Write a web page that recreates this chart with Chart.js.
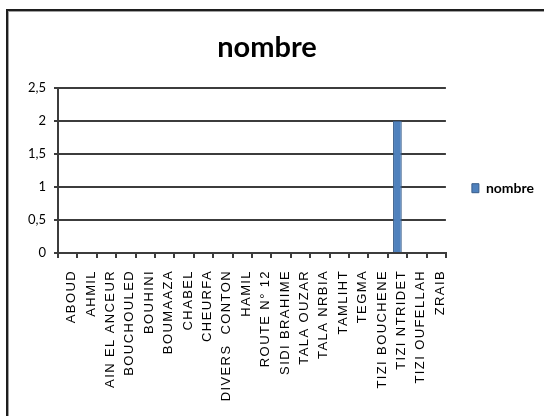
<!DOCTYPE html>
<html>
<head>
<meta charset="utf-8">
<script src="https://cdn.jsdelivr.net/npm/chart.js@4"></script>
<style>
    html, body { margin: 0; padding: 0; background: #fff; }
    #wrap { position: relative; width: 544px; height: 416px; overflow: hidden; }
    #frame {
        position: absolute; left: 6px; top: 9px; right: -20px; bottom: -20px;
        border-left: 2px solid #1e1e1e; border-top: 2px solid #1e1e1e;
        box-shadow: inset 1px 1px 0 #a0a0a0;
    }
    #chart { position: absolute; left: 0; top: 0; }
</style>
</head>
<body>
<div id="wrap">
    <div id="frame"></div>
    <canvas id="chart" width="544" height="416"></canvas>
</div>
<script>
const categories = ['ABOUD', 'AHMIL', 'AIN EL ANCEUR', 'BOUCHOULED', 'BOUHINI', 'BOUMAAZA', 'CHABEL', 'CHEURFA',
    'DIVERS  CONTON', 'HAMIL', 'ROUTE N° 12', 'SIDI BRAHIME', 'TALA OUZAR', 'TALA NRBIA', 'TAMLIHT', 'TEGMA',
    'TIZI BOUCHENE', 'TIZI NTRIDET', 'TIZI OUFELLAH', 'ZRAIB'];
const nombre = [0, 0, 0, 0, 0, 0, 0, 0, 0, 0, 0, 0, 0, 0, 0, 0, 0, 2, 0, 0];
const yTicks = [0, 0.5, 1, 1.5, 2, 2.5];
const yTickLabels = ['0', '0,5', '1', '1,5', '2', '2,5'];

const gridColor = '#3c3c3c';

// the x labels in the original look stretched, a bit of letter spacing gets close
const labelSpacing = {
    id: 'labelSpacing',
    afterDatasetsDraw(chart) { chart.ctx.letterSpacing = '1.4px'; },
    afterDraw(chart) { chart.ctx.letterSpacing = '0px'; }
};

// excel centres the title on the whole frame, not the canvas
const titleShift = {
    id: 'titleShift',
    afterLayout(chart) { chart.titleBlock.right -= 18; }
};

const ctx = document.getElementById('chart').getContext('2d');
new Chart(ctx, {
    type: 'bar',
    data: {
        labels: categories,
        datasets: [{
            label: 'nombre',
            data: nombre,
            backgroundColor: '#4f81bd',
            borderColor: '#385d8a',
            borderWidth: 1,
            barPercentage: 0.9,
            categoryPercentage: 0.5
        }]
    },
    options: {
        responsive: false,
        animation: false,
        layout: { padding: { left: 8, top: 10, right: 0, bottom: 0 } },
        plugins: {
            title: {
                display: true,
                text: 'nombre',
                color: '#000',
                font: { family: 'Lato', size: 29, weight: 'bold' },
                padding: { top: 20, bottom: 23 }
            },
            legend: {
                position: 'right',
                align: 'start',
                fullSize: false,
                title: { display: true, text: '', padding: { top: 53, bottom: 0 } },
                labels: {
                    boxWidth: 7,
                    boxHeight: 9,
                    padding: 26,
                    color: '#000',
                    font: { family: 'Lato', size: 14, weight: 'bold' }
                }
            },
            tooltip: { enabled: false }
        },
        scales: {
            x: {
                grid: { display: true, drawOnChartArea: false, color: gridColor, lineWidth: 2, tickLength: 5, offset: true },
                border: { display: true, color: gridColor, width: 2 },
                ticks: {
                    z: 1,
                    minRotation: 90,
                    maxRotation: 90,
                    autoSkip: false,
                    padding: 12,
                    labelOffset: 4,
                    color: '#000',
                    font: { family: 'Liberation Sans', size: 13 }
                },
                afterFit(scale) { scale.height = 163; }
            },
            y: {
                min: 0,
                max: 2.5,
                grid: { color: gridColor, lineWidth: 2, tickLength: 4 },
                border: { display: true, color: gridColor, width: 2 },
                ticks: {
                    stepSize: 0.5,
                    padding: 8,
                    color: '#000',
                    font: { family: 'Lato', size: 13 },
                    callback: (value) => yTickLabels[yTicks.indexOf(value)]
                },
                afterFit(scale) { scale.width = 50; }
            }
        }
    },
    plugins: [labelSpacing, titleShift]
});
</script>
</body>
</html>
